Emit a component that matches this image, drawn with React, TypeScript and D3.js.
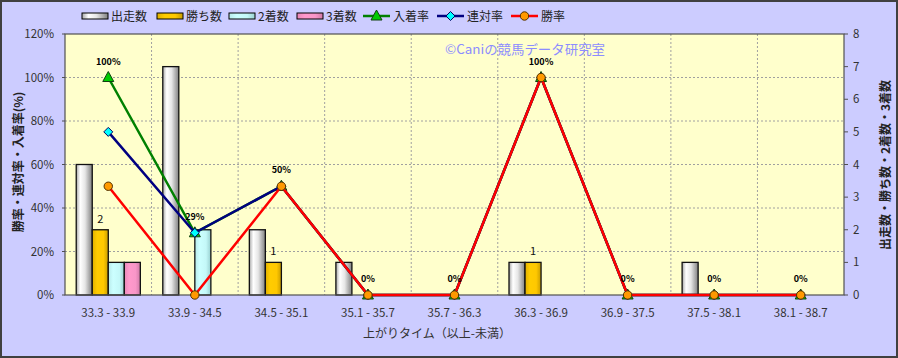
import React from "react";
import * as d3 from "d3";

const categories = ["33.3 - 33.9", "33.9 - 34.5", "34.5 - 35.1", "35.1 - 35.7", "35.7 - 36.3", "36.3 - 36.9", "36.9 - 37.5", "37.5 - 38.1", "38.1 - 38.7"];
const starts = [4, 7, 2, 1, 0, 1, 0, 1, 0];
const wins = [2, 0, 1, 0, 0, 1, 0, 0, 0];
const seconds = [1, 2, 0, 0, 0, 0, 0, 0, 0];
const thirds = [1, 0, 0, 0, 0, 0, 0, 0, 0];
const placeRate = [100, 28.6, 50, 0, 0, 100, 0, 0, 0];
const quinellaRate = [75, 28.6, 50, 0, 0, 100, 0, 0, 0];
const winRate = [50, 0, 50, 0, 0, 100, 0, 0, 0];
const placeLabels = ["100%", "29%", "50%", "0%", "0%", "100%", "0%", "0%", "0%"];
const leftTicks = [0, 20, 40, 60, 80, 100, 120];
const rightTicks = [0, 1, 2, 3, 4, 5, 6, 7, 8];

const W = 898, H = 358;
const PL = 65, PR = 844, PT = 34, PB = 295;
const FONT = "'Noto Sans CJK JP', 'Noto Sans', sans-serif";

const barSeries = [
  { name: "出走数", values: starts, grad: "gStart" },
  { name: "勝ち数", values: wins, grad: "gWin" },
  { name: "2着数", values: seconds, grad: "gSecond" },
  { name: "3着数", values: thirds, grad: "gThird" },
];

export default function App() {
  const x = d3.scaleBand<string>().domain(categories).range([PL, PR]).padding(0);
  const xi = d3.scaleBand<string>().domain(barSeries.map((s) => s.name)).range([0, x.bandwidth()]).paddingInner(0).paddingOuter(0.7);
  const yL = d3.scaleLinear().domain([0, 120]).range([PB, PT]);
  const yR = d3.scaleLinear().domain([0, 8]).range([PB, PT]);
  const cx = (c: string) => (x(c) as number) + x.bandwidth() / 2;

  const line = (vals: number[]) =>
    d3.line<number>().x((_, i) => cx(categories[i])).y((v) => yL(v))(vals) as string;

  const tri = (px: number, py: number) => `M${px},${py - 6}L${px + 5.5},${py + 4}L${px - 5.5},${py + 4}Z`;
  const dia = (px: number, py: number) => `M${px},${py - 4.5}L${px + 4.5},${py}L${px},${py + 4.5}L${px - 4.5},${py}Z`;

  const legendBars = [
    { x: 82, label: "出走数", grad: "gStart" },
    { x: 157, label: "勝ち数", grad: "gWin" },
    { x: 229, label: "2着数", grad: "gSecond" },
    { x: 297, label: "3着数", grad: "gThird" },
  ];
  const legendLines = [
    { x: 363, label: "入着率", color: "#008000", marker: "tri" },
    { x: 437, label: "連対率", color: "#000080", marker: "dia" },
    { x: 511, label: "勝率", color: "#ff0000", marker: "circ" },
  ];
  const LY = 16;

  const marker = (kind: string, px: number, py: number, key: string) => {
    if (kind === "tri") return <path key={key} d={tri(px, py)} fill="#00cc00" stroke="#104010" strokeWidth={1} />;
    if (kind === "dia") return <path key={key} d={dia(px, py)} fill="#00ffff" stroke="#000060" strokeWidth={1} />;
    return <circle key={key} cx={px} cy={py} r={4.2} fill="#ff9900" stroke="#503000" strokeWidth={1} />;
  };

  return (
    <svg width={W} height={H} style={{ position: "absolute", left: 0, top: 0, display: "block" }} fontFamily={FONT}>
      <defs>
        <linearGradient id="gStart" x1="0" x2="1" y1="0" y2="0">
          <stop offset="0" stopColor="#a8a8a8" />
          <stop offset="0.25" stopColor="#ffffff" />
          <stop offset="0.55" stopColor="#e6e6e6" />
          <stop offset="1" stopColor="#808080" />
        </linearGradient>
        <linearGradient id="gWin" x1="0" x2="1" y1="0" y2="0">
          <stop offset="0" stopColor="#e0b000" />
          <stop offset="0.3" stopColor="#ffcc00" />
          <stop offset="0.7" stopColor="#ffc800" />
          <stop offset="1" stopColor="#c89c00" />
        </linearGradient>
        <linearGradient id="gSecond" x1="0" x2="1" y1="0" y2="0">
          <stop offset="0" stopColor="#b8eaea" />
          <stop offset="0.3" stopColor="#ccffff" />
          <stop offset="0.7" stopColor="#c4f8f8" />
          <stop offset="1" stopColor="#98d0d0" />
        </linearGradient>
        <linearGradient id="gThird" x1="0" x2="1" y1="0" y2="0">
          <stop offset="0" stopColor="#e888b8" />
          <stop offset="0.3" stopColor="#ff99cc" />
          <stop offset="0.7" stopColor="#f896c8" />
          <stop offset="1" stopColor="#d07aa8" />
        </linearGradient>
      </defs>
      <rect x={0} y={0} width={W} height={H} fill="#ccccff" />
      <rect x={1} y={1} width={W - 2} height={H - 2} fill="none" stroke="#404040" strokeWidth={2} />

      {/* legend */}
      {legendBars.map((l) => (
        <g key={l.label}>
          <rect x={l.x} y={LY - 3} width={26} height={6} fill={`url(#${l.grad})`} stroke="#000" strokeWidth={1} />
          <text x={l.x + 29} y={LY + 5} fontSize={12} fill="#222">{l.label}</text>
        </g>
      ))}
      {legendLines.map((l) => (
        <g key={l.label}>
          <line x1={l.x} x2={l.x + 27} y1={LY} y2={LY} stroke={l.color} strokeWidth={2.5} />
          {marker(l.marker, l.x + 13.5, LY, "m")}
          <text x={l.x + 30} y={LY + 5} fontSize={12} fill="#222">{l.label}</text>
        </g>
      ))}

      {/* plot area */}
      <rect x={PL} y={PT} width={PR - PL} height={PB - PT} fill="#ffffcc" />
      {leftTicks.slice(1, -1).map((t) => (
        <line key={"h" + t} x1={PL} x2={PR} y1={yL(t)} y2={yL(t)} stroke="#a0a0a0" strokeWidth={1} strokeDasharray="2,2" />
      ))}
      {categories.slice(1).map((c) => (
        <line key={"v" + c} x1={x(c) as number} x2={x(c) as number} y1={PT} y2={PB} stroke="#a0a0a0" strokeWidth={1} strokeDasharray="2,2" />
      ))}

      {/* watermark */}
      <text x={445} y={54} fontSize={13} fill="#8c8cff" textLength={160} lengthAdjust="spacingAndGlyphs">©Caniの競馬データ研究室</text>

      {/* bars */}
      {barSeries.map((s) =>
        s.values.map((v, i) =>
          v > 0 ? (
            <rect
              key={s.name + i}
              x={(x(categories[i]) as number) + (xi(s.name) as number)}
              y={yR(v)}
              width={xi.bandwidth()}
              height={PB - yR(v)}
              fill={`url(#${s.grad})`}
              stroke="#111"
              strokeWidth={1.3}
            />
          ) : null
        )
      )}
      {wins.map((v, i) =>
        v > 0 ? (
          <text key={"wl" + i} x={(x(categories[i]) as number) + (xi("勝ち数") as number) + xi.bandwidth() / 2} y={yR(v) - 7} fontSize={11} textAnchor="middle" fill="#111">
            {v}
          </text>
        ) : null
      )}

      {/* axes frame */}
      <rect x={PL} y={PT} width={PR - PL} height={PB - PT} fill="none" stroke="#505050" strokeWidth={1.2} />
      {leftTicks.map((t) => (
        <g key={"lt" + t}>
          <line x1={PL - 3} x2={PL} y1={yL(t)} y2={yL(t)} stroke="#505050" />
          <text x={54} y={yL(t) + 4} fontSize={11.5} textAnchor="end" fill="#333">{t}%</text>
        </g>
      ))}
      {rightTicks.map((t) => (
        <g key={"rt" + t}>
          <line x1={PR} x2={PR + 4} y1={yR(t)} y2={yR(t)} stroke="#505050" />
          <text x={853} y={yR(t) + 4} fontSize={11.5} fill="#333">{t}</text>
        </g>
      ))}
      {categories.map((c) => (
        <text key={"xl" + c} x={cx(c)} y={317} fontSize={11.5} textAnchor="middle" fill="#333">{c}</text>
      ))}

      {/* lines */}
      <path d={line(placeRate)} fill="none" stroke="#008000" strokeWidth={2.5} />
      {placeRate.map((v, i) => marker("tri", cx(categories[i]), yL(v), "pt" + i))}
      <path d={line(quinellaRate)} fill="none" stroke="#000080" strokeWidth={2.5} />
      {quinellaRate.map((v, i) => marker("dia", cx(categories[i]), yL(v), "qt" + i))}
      <path d={line(winRate)} fill="none" stroke="#ff0000" strokeWidth={2.5} />
      {winRate.map((v, i) => marker("circ", cx(categories[i]), yL(v), "wt" + i))}
      {placeRate.map((v, i) => (
        <text key={"pl" + i} x={cx(categories[i])} y={yL(v) - 13} fontSize={9} fontWeight="bold" textAnchor="middle" fill="#000">
          {placeLabels[i]}
        </text>
      ))}

      {/* titles */}
      <text x={437} y={338} fontSize={12} textAnchor="middle" fill="#333">上がりタイム（以上-未満）</text>
      <text transform={`translate(23,162) rotate(-90)`} fontSize={12} fontWeight="bold" textAnchor="middle" fill="#222">勝率・連対率・入着率(%)</text>
      <text transform={`translate(890,165) rotate(-90)`} fontSize={12} fontWeight="bold" textAnchor="middle" fill="#222">出走数・勝ち数・2着数・3着数</text>
    </svg>
  );
}
